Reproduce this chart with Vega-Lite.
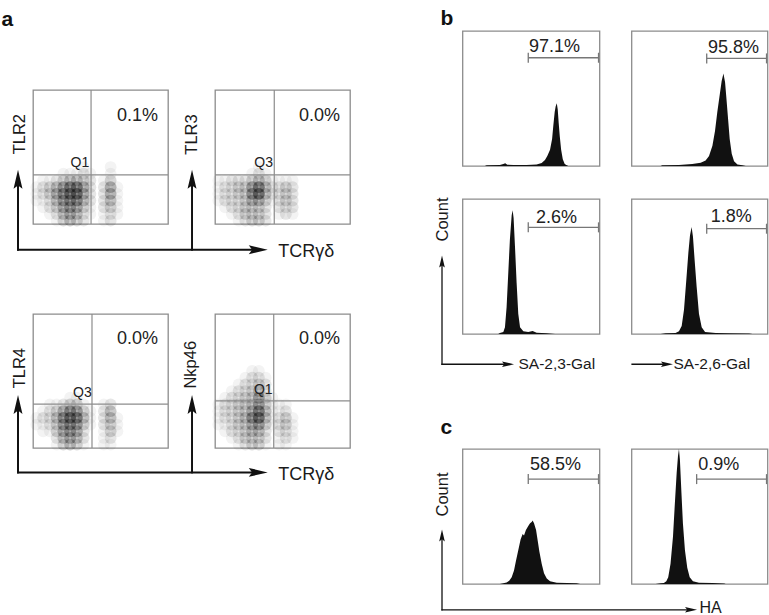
{
"$schema": "https://vega.github.io/schema/vega-lite/v6.json",
"padding": {"left": 0, "top": 6, "right": 0, "bottom": 0},
"background": "white",
"spacing": 80.5,
"config": {
  "font": "Liberation Sans",
  "view": {"stroke": "#8c8c8c", "strokeWidth": 1.3},
  "axis": {"domain": false, "ticks": false, "labels": false, "grid": false, "titleFontWeight": "normal", "titleColor": "#1a1a1a", "titleBaseline": "alphabetic", "titleFont": "Liberation Sans"}
},
"hconcat": [
{
  "concat": [
  {"width": 135, "height": 48.5, "view": {"stroke": null}, "data": {"values": []}, "mark": "point"},
  {"width": 135, "height": 48.5, "view": {"stroke": null}, "data": {"values": []}, "mark": "point"},
  {
    "width": 135, "height": 134,
    "encoding": {
      "x": {"field": "x", "type": "quantitative", "scale": {"domain": [0, 100], "nice": false, "zero": false}, "axis": {"orient": "top", "title": "a", "titleX": -32, "titleY": -65, "titleAlign": "left", "titleFontSize": 21, "titleFontWeight": "bold", "titleColor": "#111"}},
      "y": {"field": "y", "type": "quantitative", "scale": {"domain": [0, 100], "nice": false, "zero": false}, "axis": {"title": "TLR2", "titleX": -9, "titleY": 43.7, "titleAngle": -90, "titleAlign": "center", "titleFontSize": 16.5}}
    },
    "layer": [
      {"data": {"values": [
        {"x":37.5,"y":42.5,"d":1},
        {"x":22.5,"y":37.5,"d":1},{"x":27.5,"y":37.5,"d":1},{"x":32.5,"y":37.5,"d":1},{"x":37.5,"y":37.5,"d":2},{"x":42.5,"y":37.5,"d":1},
        {"x":7.5,"y":32.5,"d":1},{"x":12.5,"y":32.5,"d":1},{"x":17.5,"y":32.5,"d":2},{"x":22.5,"y":32.5,"d":3},{"x":27.5,"y":32.5,"d":4},{"x":32.5,"y":32.5,"d":4},{"x":37.5,"y":32.5,"d":3},{"x":42.5,"y":32.5,"d":2},
        {"x":2.5,"y":27.5,"d":1},{"x":7.5,"y":27.5,"d":2},{"x":12.5,"y":27.5,"d":3},{"x":17.5,"y":27.5,"d":4},{"x":22.5,"y":27.5,"d":6},{"x":27.5,"y":27.5,"d":8},{"x":32.5,"y":27.5,"d":8},{"x":37.5,"y":27.5,"d":5},{"x":42.5,"y":27.5,"d":2},
        {"x":2.5,"y":22.5,"d":1},{"x":7.5,"y":22.5,"d":2},{"x":12.5,"y":22.5,"d":3},{"x":17.5,"y":22.5,"d":5},{"x":22.5,"y":22.5,"d":7},{"x":27.5,"y":22.5,"d":9},{"x":32.5,"y":22.5,"d":9},{"x":37.5,"y":22.5,"d":5},{"x":42.5,"y":22.5,"d":2},
        {"x":2.5,"y":17.5,"d":1},{"x":7.5,"y":17.5,"d":1},{"x":12.5,"y":17.5,"d":2},{"x":17.5,"y":17.5,"d":4},{"x":22.5,"y":17.5,"d":6},{"x":27.5,"y":17.5,"d":7},{"x":32.5,"y":17.5,"d":7},{"x":37.5,"y":17.5,"d":4},{"x":42.5,"y":17.5,"d":2},
        {"x":7.5,"y":12.5,"d":1},{"x":12.5,"y":12.5,"d":2},{"x":17.5,"y":12.5,"d":3},{"x":22.5,"y":12.5,"d":5},{"x":27.5,"y":12.5,"d":6},{"x":32.5,"y":12.5,"d":5},{"x":37.5,"y":12.5,"d":3},{"x":42.5,"y":12.5,"d":1},
        {"x":12.5,"y":7.5,"d":1},{"x":17.5,"y":7.5,"d":2},{"x":22.5,"y":7.5,"d":4},{"x":27.5,"y":7.5,"d":5},{"x":32.5,"y":7.5,"d":4},{"x":37.5,"y":7.5,"d":2},{"x":42.5,"y":7.5,"d":1},
        {"x":17.5,"y":2.5,"d":1},{"x":22.5,"y":2.5,"d":3},{"x":27.5,"y":2.5,"d":4},{"x":32.5,"y":2.5,"d":3},{"x":37.5,"y":2.5,"d":2},
        {"x":52.5,"y":2.5,"d":1},{"x":52.5,"y":7.5,"d":1},{"x":52.5,"y":12.5,"d":2},{"x":52.5,"y":17.5,"d":2},{"x":52.5,"y":22.5,"d":2},{"x":52.5,"y":27.5,"d":2},{"x":52.5,"y":32.5,"d":1},
        {"x":57.5,"y":2.5,"d":2},{"x":57.5,"y":7.5,"d":2},{"x":57.5,"y":12.5,"d":3},{"x":57.5,"y":17.5,"d":4},{"x":57.5,"y":22.5,"d":5},{"x":57.5,"y":27.5,"d":5},{"x":57.5,"y":32.5,"d":3},{"x":57.5,"y":37.5,"d":1},{"x":57.5,"y":42.5,"d":1},
        {"x":62.5,"y":7.5,"d":1},{"x":62.5,"y":12.5,"d":1},{"x":62.5,"y":17.5,"d":1},{"x":62.5,"y":22.5,"d":1},{"x":62.5,"y":27.5,"d":1}
      ]},
       "mark": {"type": "circle", "size": 140, "color": "#111", "strokeWidth": 0},
       "encoding": {"opacity": {"field": "d", "type": "quantitative", "scale": {"domain": [1, 9], "range": [0.05, 0.5]}, "legend": null}}},
      {"data": {"values": [{"x":43,"y":0,"x2":43,"y2":100},{"x":0,"y":36.6,"x2":100,"y2":36.6}]},
       "mark": {"type": "rule", "color": "#8c8c8c", "strokeWidth": 1.2},
       "encoding": {"x2": {"field": "x2"}, "y2": {"field": "y2"}}},
      {"data": {"values": [{"x":41.7,"y":42.2,"t":"Q1"}]},
       "mark": {"type": "text", "align": "right", "baseline": "alphabetic", "fontSize": 14, "color": "#222"},
       "encoding": {"text": {"field": "t"}}},
      {"data": {"values": [{"x":92.6,"y":76.9,"t":"0.1%"}]},
       "mark": {"type": "text", "align": "right", "baseline": "alphabetic", "fontSize": 18, "color": "#222"},
       "encoding": {"text": {"field": "t"}}},
      {"data": {"values": [{"x":-11.1,"y":-19.2,"x2":167.2,"y2":-19.2},{"x":-11.1,"y":-19.2,"x2":-11.1,"y2":34},{"x":117.8,"y":-19.2,"x2":117.8,"y2":34}]},
       "mark": {"type": "rule", "color": "#111", "strokeWidth": 2, "clip": false, "strokeCap": "square"},
       "encoding": {"x2": {"field": "x2"}, "y2": {"field": "y2"}}},
      {"data": {"values": [{"x":-11.1,"y":40.5},{"x":117.8,"y":40.5}]},
       "mark": {"type": "point", "shape": "M0,0L0.47,2L0,1.65L-0.47,2Z", "size": 361, "filled": true, "color": "#111", "opacity": 1, "strokeWidth": 0, "clip": false}},
      {"data": {"values": [{"x":173.9,"y":-19.2}]},
       "mark": {"type": "point", "shape": "M0,0L-2,0.47L-1.65,0L-2,-0.47Z", "size": 361, "filled": true, "color": "#111", "opacity": 1, "strokeWidth": 0, "clip": false}}
    ]
  },
  {
    "width": 135, "height": 134,
    "encoding": {
      "x": {"field": "x", "type": "quantitative", "scale": {"domain": [0, 100], "nice": false, "zero": false}, "axis": {"title": "TCRγδ", "titleX": 62.7, "titleY": 32.3, "titleAlign": "left", "titleFontSize": 18}},
      "y": {"field": "y", "type": "quantitative", "scale": {"domain": [0, 100], "nice": false, "zero": false}, "axis": {"title": "TLR3", "titleX": -19, "titleY": 44, "titleAngle": -90, "titleAlign": "center", "titleFontSize": 16.5}}
    },
    "layer": [
      {"data": {"values": [
        {"x":32.5,"y":42.5,"d":1},
        {"x":27.5,"y":37.5,"d":1},{"x":32.5,"y":37.5,"d":2},{"x":37.5,"y":37.5,"d":1},
        {"x":2.5,"y":32.5,"d":1},{"x":7.5,"y":32.5,"d":1},{"x":12.5,"y":32.5,"d":2},{"x":17.5,"y":32.5,"d":2},{"x":22.5,"y":32.5,"d":2},{"x":27.5,"y":32.5,"d":3},{"x":32.5,"y":32.5,"d":4},{"x":37.5,"y":32.5,"d":3},{"x":42.5,"y":32.5,"d":1},
        {"x":2.5,"y":27.5,"d":1},{"x":7.5,"y":27.5,"d":2},{"x":12.5,"y":27.5,"d":2},{"x":17.5,"y":27.5,"d":3},{"x":22.5,"y":27.5,"d":3},{"x":27.5,"y":27.5,"d":6},{"x":32.5,"y":27.5,"d":8},{"x":37.5,"y":27.5,"d":4},{"x":42.5,"y":27.5,"d":2},
        {"x":2.5,"y":22.5,"d":1},{"x":7.5,"y":22.5,"d":2},{"x":12.5,"y":22.5,"d":2},{"x":17.5,"y":22.5,"d":3},{"x":22.5,"y":22.5,"d":3},{"x":27.5,"y":22.5,"d":7},{"x":32.5,"y":22.5,"d":9},{"x":37.5,"y":22.5,"d":4},{"x":42.5,"y":22.5,"d":2},
        {"x":2.5,"y":17.5,"d":1},{"x":7.5,"y":17.5,"d":2},{"x":12.5,"y":17.5,"d":2},{"x":17.5,"y":17.5,"d":2},{"x":22.5,"y":17.5,"d":3},{"x":27.5,"y":17.5,"d":5},{"x":32.5,"y":17.5,"d":5},{"x":37.5,"y":17.5,"d":3},{"x":42.5,"y":17.5,"d":1},
        {"x":7.5,"y":12.5,"d":1},{"x":12.5,"y":12.5,"d":2},{"x":17.5,"y":12.5,"d":2},{"x":22.5,"y":12.5,"d":3},{"x":27.5,"y":12.5,"d":3},{"x":32.5,"y":12.5,"d":3},{"x":37.5,"y":12.5,"d":2},
        {"x":12.5,"y":7.5,"d":1},{"x":17.5,"y":7.5,"d":2},{"x":22.5,"y":7.5,"d":3},{"x":27.5,"y":7.5,"d":3},{"x":32.5,"y":7.5,"d":3},{"x":37.5,"y":7.5,"d":2},
        {"x":17.5,"y":2.5,"d":1},{"x":22.5,"y":2.5,"d":2},{"x":27.5,"y":2.5,"d":3},{"x":32.5,"y":2.5,"d":3},{"x":37.5,"y":2.5,"d":2},
        {"x":47.5,"y":7.5,"d":1},{"x":47.5,"y":12.5,"d":2},{"x":47.5,"y":17.5,"d":2},{"x":47.5,"y":22.5,"d":2},{"x":47.5,"y":27.5,"d":2},{"x":47.5,"y":32.5,"d":1},
        {"x":52.5,"y":7.5,"d":2},{"x":52.5,"y":12.5,"d":2},{"x":52.5,"y":17.5,"d":3},{"x":52.5,"y":22.5,"d":3},{"x":52.5,"y":27.5,"d":3},{"x":52.5,"y":32.5,"d":1},
        {"x":57.5,"y":7.5,"d":1},{"x":57.5,"y":12.5,"d":2},{"x":57.5,"y":17.5,"d":2},{"x":57.5,"y":22.5,"d":2},{"x":57.5,"y":27.5,"d":2},{"x":57.5,"y":32.5,"d":1}
      ]},
       "mark": {"type": "circle", "size": 140, "color": "#111", "strokeWidth": 0},
       "encoding": {"opacity": {"field": "d", "type": "quantitative", "scale": {"domain": [1, 9], "range": [0.05, 0.5]}, "legend": null}}},
      {"data": {"values": [{"x":43.9,"y":0,"x2":43.9,"y2":100},{"x":0,"y":36.6,"x2":100,"y2":36.6}]},
       "mark": {"type": "rule", "color": "#8c8c8c", "strokeWidth": 1.2},
       "encoding": {"x2": {"field": "x2"}, "y2": {"field": "y2"}}},
      {"data": {"values": [{"x":43,"y":42.2,"t":"Q3"}]},
       "mark": {"type": "text", "align": "right", "baseline": "alphabetic", "fontSize": 14, "color": "#222"},
       "encoding": {"text": {"field": "t"}}},
      {"data": {"values": [{"x":92.6,"y":76.9,"t":"0.0%"}]},
       "mark": {"type": "text", "align": "right", "baseline": "alphabetic", "fontSize": 18, "color": "#222"},
       "encoding": {"text": {"field": "t"}}}
    ]
  },
  {"width": 135, "height": 70, "view": {"stroke": null}, "data": {"values": []}, "mark": "point"},
  {"width": 135, "height": 70, "view": {"stroke": null}, "data": {"values": []}, "mark": "point"},
  {
    "width": 135, "height": 134,
    "encoding": {
      "x": {"field": "x", "type": "quantitative", "scale": {"domain": [0, 100], "nice": false, "zero": false}, "axis": null},
      "y": {"field": "y", "type": "quantitative", "scale": {"domain": [0, 100], "nice": false, "zero": false}, "axis": {"title": "TLR4", "titleX": -9, "titleY": 53.7, "titleAngle": -90, "titleAlign": "center", "titleFontSize": 16.5}}
    },
    "layer": [
      {"data": {"values": [
        {"x":27.5,"y":37.5,"d":1},{"x":32.5,"y":37.5,"d":1},
        {"x":12.5,"y":32.5,"d":1},{"x":17.5,"y":32.5,"d":1},{"x":22.5,"y":32.5,"d":2},{"x":27.5,"y":32.5,"d":3},{"x":32.5,"y":32.5,"d":3},{"x":37.5,"y":32.5,"d":1},
        {"x":7.5,"y":27.5,"d":1},{"x":12.5,"y":27.5,"d":2},{"x":17.5,"y":27.5,"d":3},{"x":22.5,"y":27.5,"d":5},{"x":27.5,"y":27.5,"d":7},{"x":32.5,"y":27.5,"d":6},{"x":37.5,"y":27.5,"d":3},{"x":42.5,"y":27.5,"d":1},
        {"x":2.5,"y":22.5,"d":1},{"x":7.5,"y":22.5,"d":2},{"x":12.5,"y":22.5,"d":2},{"x":17.5,"y":22.5,"d":4},{"x":22.5,"y":22.5,"d":7},{"x":27.5,"y":22.5,"d":9},{"x":32.5,"y":22.5,"d":8},{"x":37.5,"y":22.5,"d":4},{"x":42.5,"y":22.5,"d":1},
        {"x":2.5,"y":17.5,"d":1},{"x":7.5,"y":17.5,"d":1},{"x":12.5,"y":17.5,"d":2},{"x":17.5,"y":17.5,"d":3},{"x":22.5,"y":17.5,"d":6},{"x":27.5,"y":17.5,"d":7},{"x":32.5,"y":17.5,"d":6},{"x":37.5,"y":17.5,"d":3},{"x":42.5,"y":17.5,"d":1},
        {"x":7.5,"y":12.5,"d":1},{"x":12.5,"y":12.5,"d":1},{"x":17.5,"y":12.5,"d":3},{"x":22.5,"y":12.5,"d":5},{"x":27.5,"y":12.5,"d":6},{"x":32.5,"y":12.5,"d":5},{"x":37.5,"y":12.5,"d":2},
        {"x":17.5,"y":7.5,"d":2},{"x":22.5,"y":7.5,"d":4},{"x":27.5,"y":7.5,"d":5},{"x":32.5,"y":7.5,"d":4},{"x":37.5,"y":7.5,"d":2},
        {"x":17.5,"y":2.5,"d":1},{"x":22.5,"y":2.5,"d":3},{"x":27.5,"y":2.5,"d":4},{"x":32.5,"y":2.5,"d":3},{"x":37.5,"y":2.5,"d":1},
        {"x":52.5,"y":2.5,"d":1},{"x":52.5,"y":7.5,"d":1},{"x":52.5,"y":12.5,"d":1},{"x":52.5,"y":17.5,"d":2},{"x":52.5,"y":22.5,"d":2},{"x":52.5,"y":27.5,"d":2},{"x":52.5,"y":32.5,"d":1},
        {"x":57.5,"y":2.5,"d":1},{"x":57.5,"y":7.5,"d":2},{"x":57.5,"y":12.5,"d":3},{"x":57.5,"y":17.5,"d":3},{"x":57.5,"y":22.5,"d":4},{"x":57.5,"y":27.5,"d":4},{"x":57.5,"y":32.5,"d":2},
        {"x":62.5,"y":12.5,"d":1},{"x":62.5,"y":17.5,"d":1},{"x":62.5,"y":22.5,"d":1}
      ]},
       "mark": {"type": "circle", "size": 140, "color": "#111", "strokeWidth": 0},
       "encoding": {"opacity": {"field": "d", "type": "quantitative", "scale": {"domain": [1, 9], "range": [0.05, 0.5]}, "legend": null}}},
      {"data": {"values": [{"x":43.7,"y":0,"x2":43.7,"y2":100},{"x":0,"y":32.8,"x2":100,"y2":32.8}]},
       "mark": {"type": "rule", "color": "#8c8c8c", "strokeWidth": 1.2},
       "encoding": {"x2": {"field": "x2"}, "y2": {"field": "y2"}}},
      {"data": {"values": [{"x":43.5,"y":38.3,"t":"Q3"}]},
       "mark": {"type": "text", "align": "right", "baseline": "alphabetic", "fontSize": 14, "color": "#222"},
       "encoding": {"text": {"field": "t"}}},
      {"data": {"values": [{"x":92.6,"y":77.3,"t":"0.0%"}]},
       "mark": {"type": "text", "align": "right", "baseline": "alphabetic", "fontSize": 18, "color": "#222"},
       "encoding": {"text": {"field": "t"}}},
      {"data": {"values": [{"x":-11.1,"y":-18.2,"x2":167.2,"y2":-18.2},{"x":-11.1,"y":-18.2,"x2":-11.1,"y2":33},{"x":117.8,"y":-18.2,"x2":117.8,"y2":33}]},
       "mark": {"type": "rule", "color": "#111", "strokeWidth": 2, "clip": false, "strokeCap": "square"},
       "encoding": {"x2": {"field": "x2"}, "y2": {"field": "y2"}}},
      {"data": {"values": [{"x":-11.1,"y":39.6},{"x":117.8,"y":39.6}]},
       "mark": {"type": "point", "shape": "M0,0L0.47,2L0,1.65L-0.47,2Z", "size": 361, "filled": true, "color": "#111", "opacity": 1, "strokeWidth": 0, "clip": false}},
      {"data": {"values": [{"x":173.9,"y":-18.2}]},
       "mark": {"type": "point", "shape": "M0,0L-2,0.47L-1.65,0L-2,-0.47Z", "size": 361, "filled": true, "color": "#111", "opacity": 1, "strokeWidth": 0, "clip": false}}
    ]
  },
  {
    "width": 135, "height": 134,
    "encoding": {
      "x": {"field": "x", "type": "quantitative", "scale": {"domain": [0, 100], "nice": false, "zero": false}, "axis": {"title": "TCRγδ", "titleX": 62.7, "titleY": 31, "titleAlign": "left", "titleFontSize": 18}},
      "y": {"field": "y", "type": "quantitative", "scale": {"domain": [0, 100], "nice": false, "zero": false}, "axis": {"title": "Nkp46", "titleX": -20, "titleY": 50.2, "titleAngle": -90, "titleAlign": "center", "titleFontSize": 16.5}}
    },
    "layer": [
      {"data": {"values": [
        {"x":27.5,"y":57.5,"d":1},{"x":32.5,"y":57.5,"d":1},
        {"x":22.5,"y":52.5,"d":1},{"x":27.5,"y":52.5,"d":2},{"x":32.5,"y":52.5,"d":2},{"x":37.5,"y":52.5,"d":1},
        {"x":17.5,"y":47.5,"d":1},{"x":22.5,"y":47.5,"d":2},{"x":27.5,"y":47.5,"d":2},{"x":32.5,"y":47.5,"d":3},{"x":37.5,"y":47.5,"d":2},
        {"x":12.5,"y":42.5,"d":1},{"x":17.5,"y":42.5,"d":2},{"x":22.5,"y":42.5,"d":2},{"x":27.5,"y":42.5,"d":3},{"x":32.5,"y":42.5,"d":4},{"x":37.5,"y":42.5,"d":2},
        {"x":7.5,"y":37.5,"d":1},{"x":12.5,"y":37.5,"d":2},{"x":17.5,"y":37.5,"d":2},{"x":22.5,"y":37.5,"d":3},{"x":27.5,"y":37.5,"d":3},{"x":32.5,"y":37.5,"d":6},{"x":37.5,"y":37.5,"d":3},{"x":42.5,"y":37.5,"d":1},
        {"x":2.5,"y":32.5,"d":1},{"x":7.5,"y":32.5,"d":2},{"x":12.5,"y":32.5,"d":2},{"x":17.5,"y":32.5,"d":3},{"x":22.5,"y":32.5,"d":3},{"x":27.5,"y":32.5,"d":4},{"x":32.5,"y":32.5,"d":6},{"x":37.5,"y":32.5,"d":3},{"x":42.5,"y":32.5,"d":1},
        {"x":2.5,"y":27.5,"d":1},{"x":7.5,"y":27.5,"d":2},{"x":12.5,"y":27.5,"d":2},{"x":17.5,"y":27.5,"d":3},{"x":22.5,"y":27.5,"d":3},{"x":27.5,"y":27.5,"d":5},{"x":32.5,"y":27.5,"d":8},{"x":37.5,"y":27.5,"d":4},{"x":42.5,"y":27.5,"d":1},
        {"x":2.5,"y":22.5,"d":1},{"x":7.5,"y":22.5,"d":2},{"x":12.5,"y":22.5,"d":2},{"x":17.5,"y":22.5,"d":3},{"x":22.5,"y":22.5,"d":4},{"x":27.5,"y":22.5,"d":7},{"x":32.5,"y":22.5,"d":9},{"x":37.5,"y":22.5,"d":4},{"x":42.5,"y":22.5,"d":1},
        {"x":2.5,"y":17.5,"d":1},{"x":7.5,"y":17.5,"d":1},{"x":12.5,"y":17.5,"d":2},{"x":17.5,"y":17.5,"d":3},{"x":22.5,"y":17.5,"d":3},{"x":27.5,"y":17.5,"d":5},{"x":32.5,"y":17.5,"d":6},{"x":37.5,"y":17.5,"d":3},{"x":42.5,"y":17.5,"d":1},
        {"x":7.5,"y":12.5,"d":1},{"x":12.5,"y":12.5,"d":2},{"x":17.5,"y":12.5,"d":2},{"x":22.5,"y":12.5,"d":3},{"x":27.5,"y":12.5,"d":4},{"x":32.5,"y":12.5,"d":4},{"x":37.5,"y":12.5,"d":2},
        {"x":12.5,"y":7.5,"d":1},{"x":17.5,"y":7.5,"d":2},{"x":22.5,"y":7.5,"d":3},{"x":27.5,"y":7.5,"d":3},{"x":32.5,"y":7.5,"d":3},{"x":37.5,"y":7.5,"d":2},
        {"x":17.5,"y":2.5,"d":1},{"x":22.5,"y":2.5,"d":2},{"x":27.5,"y":2.5,"d":3},{"x":32.5,"y":2.5,"d":3},{"x":37.5,"y":2.5,"d":1},
        {"x":47.5,"y":2.5,"d":1},{"x":47.5,"y":7.5,"d":1},{"x":47.5,"y":12.5,"d":2},{"x":47.5,"y":17.5,"d":2},{"x":47.5,"y":22.5,"d":2},{"x":47.5,"y":27.5,"d":1},{"x":47.5,"y":32.5,"d":1},
        {"x":52.5,"y":2.5,"d":1},{"x":52.5,"y":7.5,"d":2},{"x":52.5,"y":12.5,"d":2},{"x":52.5,"y":17.5,"d":3},{"x":52.5,"y":22.5,"d":3},{"x":52.5,"y":27.5,"d":2},{"x":52.5,"y":32.5,"d":1},
        {"x":57.5,"y":7.5,"d":1},{"x":57.5,"y":12.5,"d":1},{"x":57.5,"y":17.5,"d":1},{"x":57.5,"y":22.5,"d":1}
      ]},
       "mark": {"type": "circle", "size": 140, "color": "#111", "strokeWidth": 0},
       "encoding": {"opacity": {"field": "d", "type": "quantitative", "scale": {"domain": [1, 9], "range": [0.05, 0.5]}, "legend": null}}},
      {"data": {"values": [{"x":43.5,"y":0,"x2":43.5,"y2":100},{"x":0,"y":35.1,"x2":100,"y2":35.1}]},
       "mark": {"type": "rule", "color": "#8c8c8c", "strokeWidth": 1.2},
       "encoding": {"x2": {"field": "x2"}, "y2": {"field": "y2"}}},
      {"data": {"values": [{"x":42.7,"y":40.3,"t":"Q1"}]},
       "mark": {"type": "text", "align": "right", "baseline": "alphabetic", "fontSize": 14, "color": "#222"},
       "encoding": {"text": {"field": "t"}}},
      {"data": {"values": [{"x":92.6,"y":77.3,"t":"0.0%"}]},
       "mark": {"type": "text", "align": "right", "baseline": "alphabetic", "fontSize": 18, "color": "#222"},
       "encoding": {"text": {"field": "t"}}}
    ]
  }
  ],
  "columns": 2,
  "spacing": {"row": 10, "column": 47},
  "bounds": "flush"
},
{
  "concat": [
  {
    "width": 137, "height": 135,
    "encoding": {
      "x": {"field": "x", "type": "quantitative", "scale": {"domain": [0, 100], "nice": false, "zero": false}, "axis": {"orient": "top", "title": "b", "titleX": -22.5, "titleY": -6.5, "titleAlign": "left", "titleFontSize": 21, "titleFontWeight": "bold", "titleColor": "#111"}},
      "y": {"field": "y", "type": "quantitative", "scale": {"domain": [0, 100], "nice": false, "zero": false}, "axis": null}
    },
    "layer": [
      {"data": {"values": [{"x":16.3,"y":0},{"x":17.6,"y":0.5},{"x":27.3,"y":0.7},{"x":29.8,"y":1.5},{"x":31.2,"y":2},{"x":32.7,"y":1},{"x":37.1,"y":0.7},{"x":46.8,"y":0.7},{"x":54.1,"y":1.2},{"x":57.8,"y":2.2},{"x":60.2,"y":4.5},{"x":61.9,"y":7.4},{"x":63.9,"y":12},{"x":65.4,"y":20},{"x":66.3,"y":30},{"x":67.3,"y":40},{"x":68,"y":44},{"x":68.8,"y":46.5},{"x":69.5,"y":42},{"x":70.2,"y":32},{"x":71,"y":22},{"x":72,"y":12},{"x":73.2,"y":5},{"x":74.6,"y":1.5},{"x":76.1,"y":0.5},{"x":77.3,"y":0}]},
       "mark": {"type": "area", "color": "#111", "opacity": 1}},
      {"data": {"values": [{"x":48,"y":80.2,"x2":99.3,"y2":80.2},{"x":48,"y":76.5,"x2":48,"y2":83.9},{"x":99.3,"y":76.5,"x2":99.3,"y2":83.9}]},
       "mark": {"type": "rule", "color": "#777", "strokeWidth": 1.3},
       "encoding": {"x2": {"field": "x2"}, "y2": {"field": "y2"}}},
      {"data": {"values": [{"x":48.5,"y":84.2,"t":"97.1%"}]},
       "mark": {"type": "text", "align": "left", "baseline": "alphabetic", "fontSize": 18, "color": "#222"},
       "encoding": {"text": {"field": "t"}}}
    ]
  },
  {
    "width": 136, "height": 135,
    "encoding": {
      "x": {"field": "x", "type": "quantitative", "scale": {"domain": [0, 100], "nice": false, "zero": false}, "axis": null},
      "y": {"field": "y", "type": "quantitative", "scale": {"domain": [0, 100], "nice": false, "zero": false}, "axis": null}
    },
    "layer": [
      {"data": {"values": [{"x":21.4,"y":0},{"x":22.6,"y":0.5},{"x":34.9,"y":0.8},{"x":44.7,"y":1.5},{"x":50.9,"y":2.5},{"x":54.5,"y":4},{"x":57,"y":7.5},{"x":59.5,"y":15},{"x":61.4,"y":26},{"x":63.1,"y":40},{"x":64.9,"y":53},{"x":66.3,"y":63},{"x":67.6,"y":68.6},{"x":68.8,"y":62},{"x":69.8,"y":50},{"x":71,"y":35},{"x":72.2,"y":20},{"x":73.7,"y":9},{"x":75.4,"y":3.5},{"x":77.9,"y":1.2},{"x":81.6,"y":0.5},{"x":84,"y":0}]},
       "mark": {"type": "area", "color": "#111", "opacity": 1}},
      {"data": {"values": [{"x":55.3,"y":79.7,"x2":99.3,"y2":79.7},{"x":55.3,"y":76,"x2":55.3,"y2":83.4},{"x":99.3,"y":76,"x2":99.3,"y2":83.4}]},
       "mark": {"type": "rule", "color": "#777", "strokeWidth": 1.3},
       "encoding": {"x2": {"field": "x2"}, "y2": {"field": "y2"}}},
      {"data": {"values": [{"x":56.3,"y":84,"t":"95.8%"}]},
       "mark": {"type": "text", "align": "left", "baseline": "alphabetic", "fontSize": 18, "color": "#222"},
       "encoding": {"text": {"field": "t"}}}
    ]
  },
  {
    "width": 137, "height": 135,
    "encoding": {
      "x": {"field": "x", "type": "quantitative", "scale": {"domain": [0, 100], "nice": false, "zero": false}, "axis": {"title": "SA-2,3-Gal", "titleX": 55.5, "titleY": 34.5, "titleAlign": "left", "titleFontSize": 15.5}},
      "y": {"field": "y", "type": "quantitative", "scale": {"domain": [0, 100], "nice": false, "zero": false}, "axis": {"title": "Count", "titleX": -15.5, "titleY": 20, "titleAngle": -90, "titleAlign": "center", "titleFontSize": 16.5}}
    },
    "layer": [
      {"data": {"values": [{"x":26.1,"y":0},{"x":27.3,"y":0.7},{"x":29.8,"y":1.5},{"x":31,"y":5},{"x":32.2,"y":20},{"x":33.4,"y":45},{"x":34.6,"y":70},{"x":35.9,"y":88},{"x":36.6,"y":91.6},{"x":37.3,"y":86},{"x":38.3,"y":65},{"x":39.5,"y":38},{"x":40.7,"y":15},{"x":42,"y":5},{"x":44.4,"y":2},{"x":48,"y":1.5},{"x":51.2,"y":2.2},{"x":54.1,"y":1},{"x":61.5,"y":0.5},{"x":67.6,"y":0}]},
       "mark": {"type": "area", "color": "#111", "opacity": 1}},
      {"data": {"values": [{"x":48,"y":79,"x2":99.3,"y2":79},{"x":48,"y":75.3,"x2":48,"y2":82.7},{"x":99.3,"y":75.3,"x2":99.3,"y2":82.7}]},
       "mark": {"type": "rule", "color": "#777", "strokeWidth": 1.3},
       "encoding": {"x2": {"field": "x2"}, "y2": {"field": "y2"}}},
      {"data": {"values": [{"x":53.7,"y":82.3,"t":"2.6%"}]},
       "mark": {"type": "text", "align": "left", "baseline": "alphabetic", "fontSize": 18, "color": "#222"},
       "encoding": {"text": {"field": "t"}}},
      {"data": {"values": [{"x":-14.96,"y":-22.4,"x2":33.2,"y2":-22.4},{"x":-14.96,"y":-22.4,"x2":-14.96,"y2":53.7}]},
       "mark": {"type": "rule", "color": "#111", "strokeWidth": 1.3, "clip": false, "strokeCap": "square"},
       "encoding": {"x2": {"field": "x2"}, "y2": {"field": "y2"}}},
      {"data": {"values": [{"x":-14.96,"y":58.1}]},
       "mark": {"type": "point", "shape": "M0,0L0.47,2L0,1.65L-0.47,2Z", "size": 144, "filled": true, "color": "#111", "opacity": 1, "strokeWidth": 0, "clip": false}},
      {"data": {"values": [{"x":37.6,"y":-22.4}]},
       "mark": {"type": "point", "shape": "M0,0L-2,0.47L-1.65,0L-2,-0.47Z", "size": 144, "filled": true, "color": "#111", "opacity": 1, "strokeWidth": 0, "clip": false}}
    ]
  },
  {
    "width": 136, "height": 135,
    "encoding": {
      "x": {"field": "x", "type": "quantitative", "scale": {"domain": [0, 100], "nice": false, "zero": false}, "axis": {"title": "SA-2,6-Gal", "titleX": 41.5, "titleY": 34.5, "titleAlign": "left", "titleFontSize": 15.5}},
      "y": {"field": "y", "type": "quantitative", "scale": {"domain": [0, 100], "nice": false, "zero": false}, "axis": null}
    },
    "layer": [
      {"data": {"values": [{"x":21.4,"y":0},{"x":25.1,"y":0.5},{"x":32.4,"y":0.7},{"x":34.9,"y":2},{"x":36.9,"y":6},{"x":38.6,"y":18},{"x":40.3,"y":40},{"x":41.8,"y":60},{"x":43,"y":73},{"x":44.2,"y":79.3},{"x":45.2,"y":72},{"x":46.4,"y":55},{"x":47.9,"y":35},{"x":49.6,"y":15},{"x":51.6,"y":5},{"x":54.1,"y":1.5},{"x":61.9,"y":0.7},{"x":71.7,"y":0.5},{"x":86.5,"y":0.3},{"x":89,"y":0}]},
       "mark": {"type": "area", "color": "#111", "opacity": 1}},
      {"data": {"values": [{"x":55.3,"y":78,"x2":99.3,"y2":78},{"x":55.3,"y":74.3,"x2":55.3,"y2":81.7},{"x":99.3,"y":74.3,"x2":99.3,"y2":81.7}]},
       "mark": {"type": "rule", "color": "#777", "strokeWidth": 1.3},
       "encoding": {"x2": {"field": "x2"}, "y2": {"field": "y2"}}},
      {"data": {"values": [{"x":58.2,"y":82.8,"t":"1.8%"}]},
       "mark": {"type": "text", "align": "left", "baseline": "alphabetic", "fontSize": 18, "color": "#222"},
       "encoding": {"text": {"field": "t"}}},
      {"data": {"values": [{"x":0.4,"y":-22.4,"x2":26.1,"y2":-22.4}]},
       "mark": {"type": "rule", "color": "#111", "strokeWidth": 1.3, "clip": false, "strokeCap": "square"},
       "encoding": {"x2": {"field": "x2"}, "y2": {"field": "y2"}}},
      {"data": {"values": [{"x":30.5,"y":-22.4}]},
       "mark": {"type": "point", "shape": "M0,0L-2,0.47L-1.65,0L-2,-0.47Z", "size": 144, "filled": true, "color": "#111", "opacity": 1, "strokeWidth": 0, "clip": false}}
    ]
  },
  {"width": 137, "height": 49, "view": {"stroke": null}, "data": {"values": []}, "mark": "point"},
  {"width": 136, "height": 49, "view": {"stroke": null}, "data": {"values": []}, "mark": "point"},
  {
    "width": 137, "height": 135,
    "encoding": {
      "x": {"field": "x", "type": "quantitative", "scale": {"domain": [0, 100], "nice": false, "zero": false}, "axis": {"orient": "top", "title": "c", "titleX": -22.5, "titleY": -15.5, "titleAlign": "left", "titleFontSize": 21, "titleFontWeight": "bold", "titleColor": "#111"}},
      "y": {"field": "y", "type": "quantitative", "scale": {"domain": [0, 100], "nice": false, "zero": false}, "axis": {"title": "Count", "titleX": -15.5, "titleY": 45, "titleAngle": -90, "titleAlign": "center", "titleFontSize": 16.5}}
    },
    "layer": [
      {"data": {"values": [{"x":27.3,"y":0},{"x":29.8,"y":0.5},{"x":32.2,"y":1.2},{"x":34.1,"y":2.5},{"x":35.9,"y":5},{"x":37.6,"y":10},{"x":39,"y":17},{"x":40.7,"y":25},{"x":42.4,"y":33},{"x":43.9,"y":37},{"x":44.9,"y":36},{"x":46.3,"y":40},{"x":48,"y":43},{"x":49.3,"y":45},{"x":50.5,"y":46},{"x":51.2,"y":47},{"x":52.2,"y":45},{"x":53.7,"y":40},{"x":54.9,"y":32},{"x":56.1,"y":24},{"x":57.8,"y":15},{"x":59.5,"y":8},{"x":61.5,"y":4},{"x":63.9,"y":2},{"x":68.8,"y":1},{"x":76.1,"y":0.7},{"x":83.4,"y":0.5},{"x":85.9,"y":0}]},
       "mark": {"type": "area", "color": "#111", "opacity": 1}},
      {"data": {"values": [{"x":48,"y":77.7,"x2":99.3,"y2":77.7},{"x":48,"y":74,"x2":48,"y2":81.4},{"x":99.3,"y":74,"x2":99.3,"y2":81.4}]},
       "mark": {"type": "rule", "color": "#777", "strokeWidth": 1.3},
       "encoding": {"x2": {"field": "x2"}, "y2": {"field": "y2"}}},
      {"data": {"values": [{"x":49.3,"y":84.2,"t":"58.5%"}]},
       "mark": {"type": "text", "align": "left", "baseline": "alphabetic", "fontSize": 18, "color": "#222"},
       "encoding": {"text": {"field": "t"}}},
      {"data": {"values": [{"x":-14.96,"y":-19.1,"x2":166.8,"y2":-19.1},{"x":-14.96,"y":-19.1,"x2":-14.96,"y2":36}]},
       "mark": {"type": "rule", "color": "#111", "strokeWidth": 1.3, "clip": false, "strokeCap": "square"},
       "encoding": {"x2": {"field": "x2"}, "y2": {"field": "y2"}}},
      {"data": {"values": [{"x":-14.96,"y":40.4}]},
       "mark": {"type": "point", "shape": "M0,0L0.47,2L0,1.65L-0.47,2Z", "size": 144, "filled": true, "color": "#111", "opacity": 1, "strokeWidth": 0, "clip": false}},
      {"data": {"values": [{"x":171.2,"y":-19.1}]},
       "mark": {"type": "point", "shape": "M0,0L-2,0.47L-1.65,0L-2,-0.47Z", "size": 144, "filled": true, "color": "#111", "opacity": 1, "strokeWidth": 0, "clip": false}}
    ]
  },
  {
    "width": 136, "height": 135,
    "encoding": {
      "x": {"field": "x", "type": "quantitative", "scale": {"domain": [0, 100], "nice": false, "zero": false}, "axis": {"title": "HA", "titleX": 67.5, "titleY": 28.2, "titleAlign": "left", "titleFontSize": 16}},
      "y": {"field": "y", "type": "quantitative", "scale": {"domain": [0, 100], "nice": false, "zero": false}, "axis": null}
    },
    "layer": [
      {"data": {"values": [{"x":17.7,"y":0},{"x":21.4,"y":0.5},{"x":23.8,"y":0.7},{"x":25.6,"y":2},{"x":27,"y":5},{"x":28.7,"y":15},{"x":30.5,"y":35},{"x":31.9,"y":60},{"x":33.2,"y":82},{"x":34.2,"y":95},{"x":34.9,"y":100},{"x":35.6,"y":92},{"x":36.6,"y":70},{"x":37.8,"y":45},{"x":39.3,"y":25},{"x":41,"y":12},{"x":42.8,"y":5},{"x":45.2,"y":2},{"x":49.6,"y":1},{"x":59.5,"y":0.7},{"x":68.1,"y":0.4},{"x":69.3,"y":0}]},
       "mark": {"type": "area", "color": "#111", "opacity": 1}},
      {"data": {"values": [{"x":47.9,"y":77.7,"x2":99.3,"y2":77.7},{"x":47.9,"y":74,"x2":47.9,"y2":81.4},{"x":99.3,"y":74,"x2":99.3,"y2":81.4}]},
       "mark": {"type": "rule", "color": "#777", "strokeWidth": 1.3},
       "encoding": {"x2": {"field": "x2"}, "y2": {"field": "y2"}}},
      {"data": {"values": [{"x":49.1,"y":84.2,"t":"0.9%"}]},
       "mark": {"type": "text", "align": "left", "baseline": "alphabetic", "fontSize": 18, "color": "#222"},
       "encoding": {"text": {"field": "t"}}}
    ]
  }
  ],
  "columns": 2,
  "spacing": {"row": 33, "column": 32},
  "bounds": "flush"
}
]
}
